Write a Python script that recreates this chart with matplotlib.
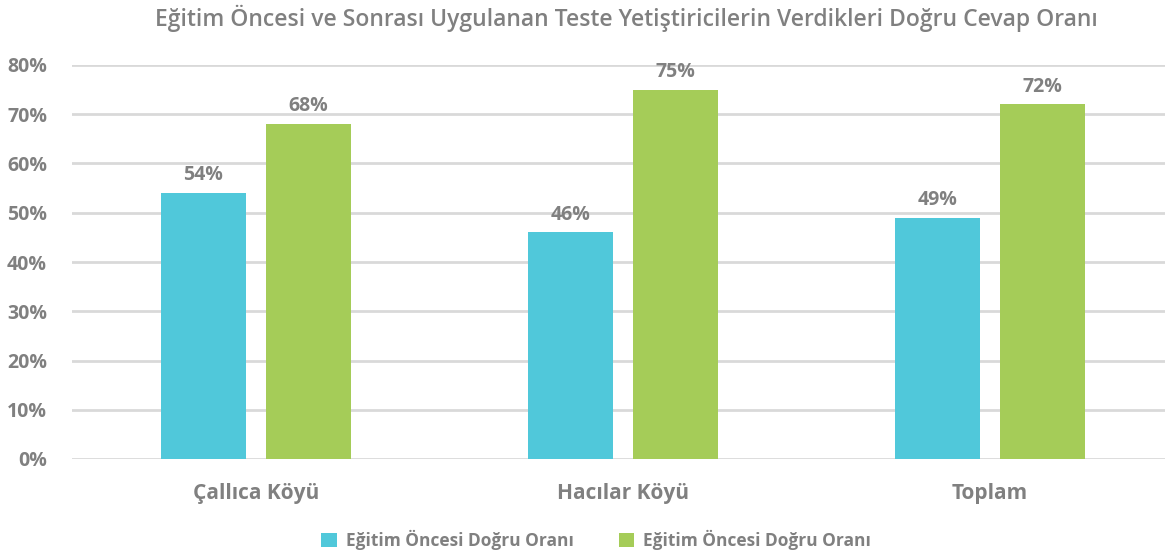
import matplotlib
matplotlib.use("Agg")
import matplotlib.pyplot as plt
import numpy as np

# veriler
kategoriler = ["Çallıca Köyü", "Hacılar Köyü", "Toplam"]
once = [54, 46, 49]
sonra = [68, 75, 72]
seri_adlari = ["Eğitim Öncesi Doğru Oranı", "Eğitim Öncesi Doğru Oranı"]
y_ticks = [0, 10, 20, 30, 40, 50, 60, 70, 80]
baslik = "Eğitim Öncesi ve Sonrası Uygulanan Teste Yetiştiricilerin Verdikleri Doğru Cevap Oranı"

plt.rcParams['font.family'] = ['Open Sans', 'DejaVu Sans']
gri = "#808080"
mavi = "#50c8da"
yesil = "#a5cc58"

fig = plt.figure(figsize=(11.65, 5.53), dpi=100)
ax = fig.add_axes([72 / 1165, 94 / 553, (1165 - 72) / 1165, 394 / 553])

x = np.arange(len(kategoriler))
w = 0.231
b1 = ax.bar(x - 0.143, once, w, color=mavi, label=seri_adlari[0], zorder=3)
b2 = ax.bar(x + 0.143, sonra, w, color=yesil, label=seri_adlari[1], zorder=3)

for bars, vals in [(b1, once), (b2, sonra)]:
    for b, v in zip(bars, vals):
        ax.text(b.get_x() + b.get_width() / 2, v + 1.6, f"{v}%", ha="center", va="bottom",
                fontsize=14, fontweight="bold", color=gri)

ax.set_xlim(-0.5, 2.476)
ax.set_ylim(0, 80)
ax.set_yticks(y_ticks)
ax.set_yticklabels([f"{t}%" for t in y_ticks])
ax.set_xticks(x)
ax.set_xticklabels(kategoriler)
ax.tick_params(axis="y", length=0, labelsize=14, labelcolor=gri, pad=18)
ax.tick_params(axis="x", length=0, labelsize=15, labelcolor=gri, pad=17)
for lab in ax.get_xticklabels() + ax.get_yticklabels():
    lab.set_fontweight("bold")
ax.grid(axis="y", color="#d9d9d9", linewidth=2, zorder=0)
for s in ax.spines.values():
    s.set_visible(False)

fig.text(626 / 1165, 1 - 18 / 553, baslik, ha="center", va="center", fontsize=16.5,
         fontweight="semibold", color=gri)

fig.legend(handles=[b1, b2], labels=seri_adlari, loc="center", bbox_to_anchor=(596 / 1165, 1 - 540 / 553),
           ncol=2, frameon=False, labelcolor=gri, handlelength=0.9, handleheight=0.9,
           handletextpad=0.5, columnspacing=2.6, prop={"weight": "bold", "size": 12.5})

fig.savefig("out.png", dpi=100)
